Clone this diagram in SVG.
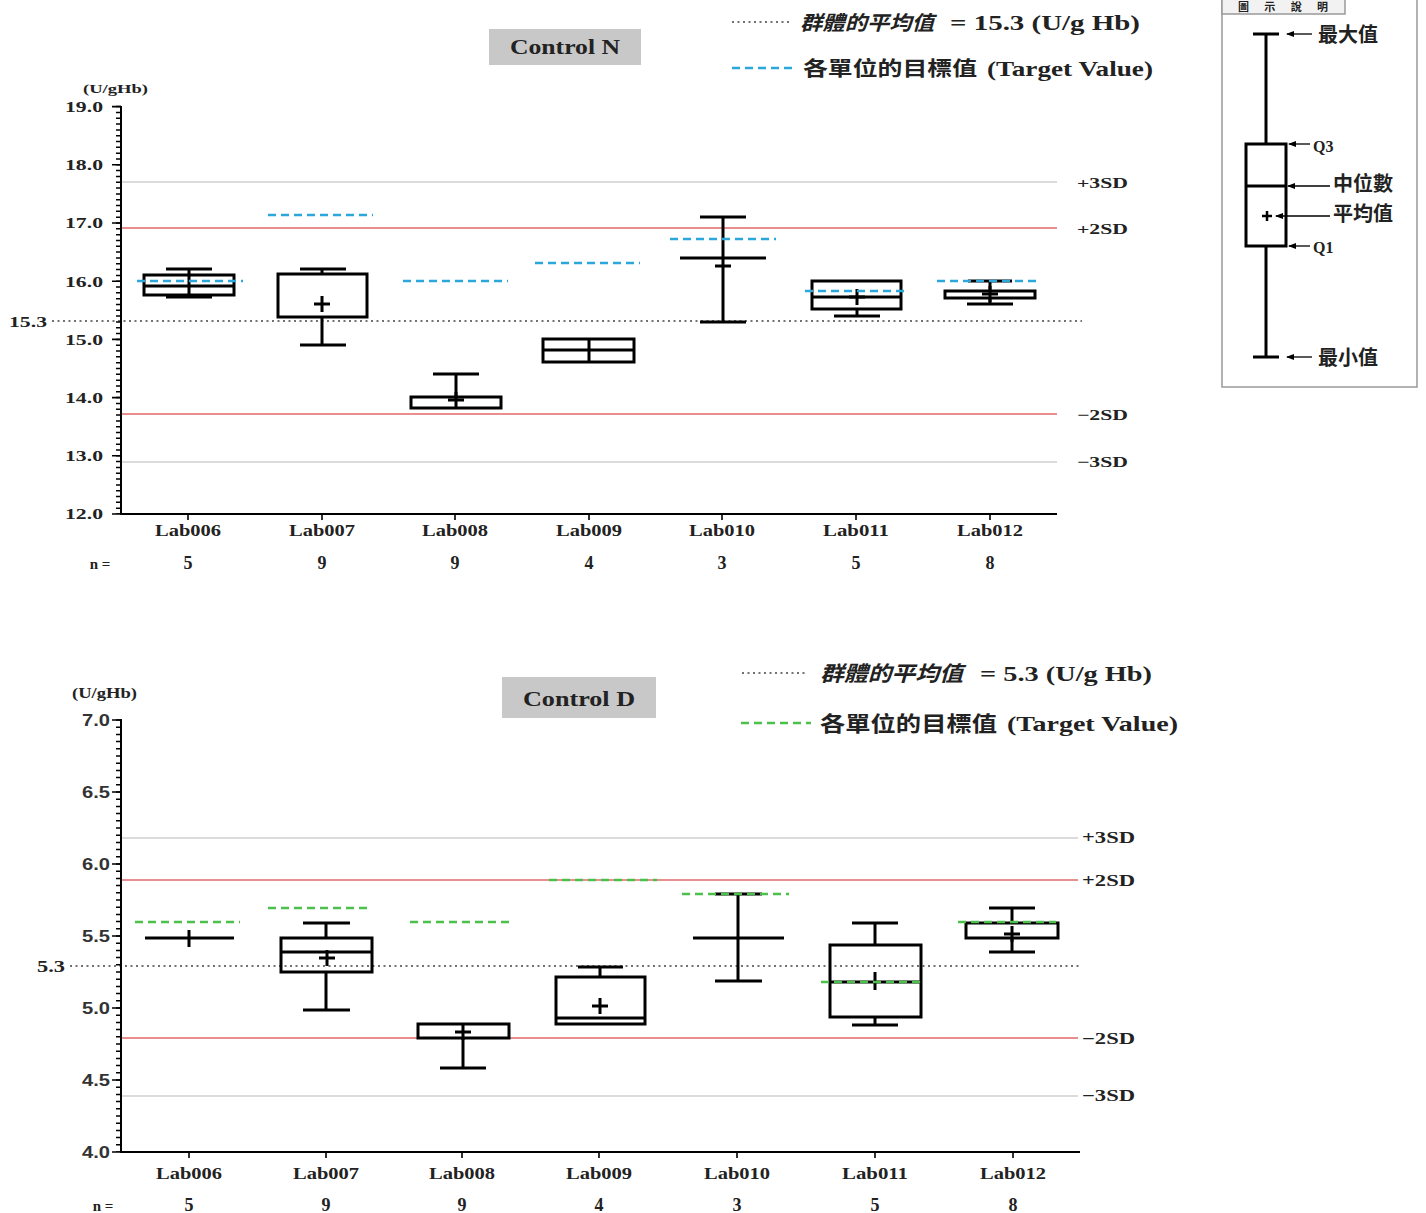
<svg xmlns="http://www.w3.org/2000/svg" xmlns:xlink="http://www.w3.org/1999/xlink" width="1426" height="1213" viewBox="0 0 1426 1213">
<style>
.ax{stroke:#000;stroke-width:2;fill:none}
.mt{stroke:#000;stroke-width:1.6}
.sd3{stroke:#cfcfcf;stroke-width:1.5}
.sd2{stroke:#e06868;stroke-width:1.3}
.mean{stroke:#444;stroke-width:1.6;stroke-dasharray:2 3.5}
.tc{stroke:#2aa8da;stroke-width:2.6;stroke-dasharray:8 5;fill:none}
.tg{stroke:#4cc04c;stroke-width:2.6;stroke-dasharray:8 5;fill:none}
.bx{fill:none;stroke:#000;stroke-width:3}
.t{font-family:"Liberation Serif","Noto Sans CJK TC",serif;font-weight:bold;fill:#222}
.s{font-family:"Liberation Sans",sans-serif;font-weight:bold;fill:#333}
.cj{font-family:"Noto Sans CJK TC","Liberation Serif",sans-serif;font-weight:bold;fill:#222}
.n{font-family:"Liberation Serif",serif;font-weight:bold;fill:#222;font-size:18px}
</style>
<defs>
<path id="plus" d="M-8,0H8M0,-8V8" stroke="#000" stroke-width="3" fill="none"/>
<marker id="arr" markerWidth="8" markerHeight="8" refX="7" refY="4" orient="auto" markerUnits="userSpaceOnUse">
<path d="M0,1 L8,4 L0,7 Z" fill="#000"/>
</marker>
</defs>
<rect width="1426" height="1213" fill="#fff"/>

<!-- ================= TOP CHART ================= -->
<g id="top-chart">
<g id="top-title">
<rect x="489" y="29" width="152" height="36" fill="#c8c8c8"/>
<text class="t" x="565" y="54" font-size="20" text-anchor="middle" textLength="110" lengthAdjust="spacingAndGlyphs">Control N</text>
</g>
<g id="top-legend">
<line x1="732" y1="22" x2="792" y2="22" class="mean"/>
<text class="cj" x="800" y="30" font-size="20" textLength="134" lengthAdjust="spacingAndGlyphs" font-style="italic">群體的平均值</text>
<text class="t" x="950" y="30" font-size="21" textLength="190" lengthAdjust="spacingAndGlyphs">= 15.3 (U/g Hb)</text>
<line x1="732" y1="68" x2="796" y2="68" class="tc"/>
<text class="cj" x="803" y="76" font-size="20" textLength="174" lengthAdjust="spacingAndGlyphs">各單位的目標值</text>
<text class="t" x="987" y="76" font-size="21" textLength="166" lengthAdjust="spacingAndGlyphs">(Target Value)</text>
</g>
<g id="top-reference-lines">
<line x1="121" y1="182" x2="1057" y2="182" class="sd3"/>
<line x1="121" y1="228" x2="1057" y2="228" class="sd2"/>
<line x1="121" y1="414" x2="1057" y2="414" class="sd2"/>
<line x1="121" y1="462" x2="1057" y2="462" class="sd3"/>
<line x1="52" y1="321" x2="1082" y2="321" class="mean"/>
<text class="t" x="9" y="327" font-size="15" textLength="38" lengthAdjust="spacingAndGlyphs">15.3</text>
<text class="t" x="1077" y="188" font-size="15" textLength="51" lengthAdjust="spacingAndGlyphs">+3SD</text>
<text class="t" x="1077" y="234" font-size="15" textLength="51" lengthAdjust="spacingAndGlyphs">+2SD</text>
<text class="t" x="1077" y="420" font-size="15" textLength="51" lengthAdjust="spacingAndGlyphs">−2SD</text>
<text class="t" x="1077" y="467" font-size="15" textLength="51" lengthAdjust="spacingAndGlyphs">−3SD</text>
</g>
<g id="top-axes">
<line x1="121" y1="106" x2="121" y2="515" class="ax"/>
<line x1="120" y1="514" x2="1057" y2="514" class="ax"/>
<line x1="118.5" y1="105.85" x2="118.5" y2="514" stroke="#000" stroke-width="5" stroke-dasharray="1.5 4.32"/>
<path class="mt" d="M112,106.6H121M112,164.8H121M112,223H121M112,281.2H121M112,339.4H121M112,397.6H121M112,455.8H121M112,514H121"/>
<path class="mt" d="M188,514V520M322,514V520M455,514V520M589,514V520M722,514V520M856,514V520M990,514V520"/>
<text class="t" x="83" y="93" font-size="13" textLength="65" lengthAdjust="spacingAndGlyphs">(U/gHb)</text>
<g font-size="15" text-anchor="end">
<text class="t" x="103" y="112" textLength="38" lengthAdjust="spacingAndGlyphs">19.0</text>
<text class="t" x="103" y="170" textLength="38" lengthAdjust="spacingAndGlyphs">18.0</text>
<text class="t" x="103" y="228" textLength="38" lengthAdjust="spacingAndGlyphs">17.0</text>
<text class="t" x="103" y="287" textLength="38" lengthAdjust="spacingAndGlyphs">16.0</text>
<text class="t" x="103" y="345" textLength="38" lengthAdjust="spacingAndGlyphs">15.0</text>
<text class="t" x="103" y="403" textLength="38" lengthAdjust="spacingAndGlyphs">14.0</text>
<text class="t" x="103" y="461" textLength="38" lengthAdjust="spacingAndGlyphs">13.0</text>
<text class="t" x="103" y="519" textLength="38" lengthAdjust="spacingAndGlyphs">12.0</text>
</g>
<g font-size="16" text-anchor="middle">
<text class="t" x="188" y="536" textLength="66" lengthAdjust="spacingAndGlyphs">Lab006</text>
<text class="t" x="322" y="536" textLength="66" lengthAdjust="spacingAndGlyphs">Lab007</text>
<text class="t" x="455" y="536" textLength="66" lengthAdjust="spacingAndGlyphs">Lab008</text>
<text class="t" x="589" y="536" textLength="66" lengthAdjust="spacingAndGlyphs">Lab009</text>
<text class="t" x="722" y="536" textLength="66" lengthAdjust="spacingAndGlyphs">Lab010</text>
<text class="t" x="856" y="536" textLength="66" lengthAdjust="spacingAndGlyphs">Lab011</text>
<text class="t" x="990" y="536" textLength="66" lengthAdjust="spacingAndGlyphs">Lab012</text>
</g>
<g text-anchor="middle">
<text class="n" x="100" y="569" style="font-size:15px">n =</text>
<text class="n" x="188" y="569">5</text>
<text class="n" x="322" y="569">9</text>
<text class="n" x="455" y="569">9</text>
<text class="n" x="589" y="569">4</text>
<text class="n" x="722" y="569">3</text>
<text class="n" x="856" y="569">5</text>
<text class="n" x="990" y="569">8</text>
</g>
</g>
<g id="top-lab006">
<path class="bx" d="M166,269H212M189,269V297M166,297H212"/>
<rect class="bx" x="144" y="275" width="90" height="20"/>
<line class="bx" x1="144" y1="286" x2="234" y2="286"/>
</g>
<g id="top-lab007">
<path class="bx" d="M300,269H346M322,269V274M322,317V345M300,345H346"/>
<rect class="bx" x="278" y="274" width="89" height="43"/>
<use xlink:href="#plus" x="322" y="304"/>
</g>
<g id="top-lab008">
<path class="bx" d="M433,374H479M456,374V397"/>
<rect class="bx" x="411" y="397" width="90" height="11"/>
<use xlink:href="#plus" x="456" y="400"/>
</g>
<g id="top-lab009">
<rect class="bx" x="543" y="339" width="91" height="23"/>
<path class="bx" d="M543,350H634M589,339V362"/>
</g>
<g id="top-lab010">
<path class="bx" d="M700,217H746M723,217V322M700,322H746M680,258H766M715,266H731"/>
</g>
<g id="top-lab011">
<rect class="bx" x="812" y="281" width="89" height="28"/>
<path class="bx" d="M812,297H901M857,309V316M834,316H880"/>
<use xlink:href="#plus" x="857" y="297"/>
</g>
<g id="top-lab012">
<rect class="bx" x="945" y="291" width="90" height="7"/>
<path class="bx" d="M968,281H1012M990,281V291M990,298V304M967,304H1013"/>
<use xlink:href="#plus" x="990" y="294"/>
</g>
<g id="top-targets">
<line class="tc" x1="137" y1="281" x2="243" y2="281"/>
<line class="tc" x1="268" y1="215" x2="373" y2="215"/>
<line class="tc" x1="403" y1="281" x2="508" y2="281"/>
<line class="tc" x1="535" y1="263" x2="640" y2="263"/>
<line class="tc" x1="670" y1="239" x2="776" y2="239"/>
<line class="tc" x1="805" y1="291" x2="905" y2="291"/>
<line class="tc" x1="937" y1="281" x2="1037" y2="281"/>
</g>
</g>

<!-- ================= LEGEND BOX ================= -->
<g id="legend-box">
<rect x="1222" y="-4" width="195" height="391" fill="none" stroke="#999" stroke-width="1.5"/>
<rect x="1222" y="-4" width="123" height="18" fill="#f2f2f2" stroke="#999" stroke-width="1.5"/>
<text class="cj" x="1283" y="11" font-size="11" text-anchor="middle" textLength="90" lengthAdjust="spacing">圖示說明</text>
<path class="bx" d="M1253,34H1279M1266,34V144M1266,246V357M1253,357H1279"/>
<rect class="bx" x="1246" y="144" width="40" height="102"/>
<line class="bx" x1="1246" y1="186" x2="1286" y2="186"/>
<path d="M1262,216H1272M1267,211V221" stroke="#000" stroke-width="2.5"/>
<g stroke="#000" stroke-width="1.3" marker-end="url(#arr)">
<line x1="1312" y1="34" x2="1287" y2="34"/>
<line x1="1310" y1="144" x2="1289" y2="144"/>
<line x1="1330" y1="186" x2="1288" y2="186"/>
<line x1="1330" y1="216" x2="1276" y2="216"/>
<line x1="1310" y1="246" x2="1289" y2="246"/>
<line x1="1312" y1="357" x2="1287" y2="357"/>
</g>
<text class="cj" x="1318" y="42" font-size="20">最大值</text>
<text class="t" x="1313" y="152" font-size="16">Q3</text>
<text class="cj" x="1333" y="191" font-size="20">中位數</text>
<text class="cj" x="1333" y="221" font-size="20">平均值</text>
<text class="t" x="1313" y="253" font-size="16">Q1</text>
<text class="cj" x="1318" y="365" font-size="20">最小值</text>
</g>

<!-- ================= BOTTOM CHART ================= -->
<g id="bottom-chart">
<g id="bottom-title">
<rect x="502" y="677" width="154" height="41" fill="#c8c8c8"/>
<text class="t" x="579" y="706" font-size="21" text-anchor="middle" textLength="112" lengthAdjust="spacingAndGlyphs">Control D</text>
</g>
<g id="bottom-legend">
<line x1="742" y1="673" x2="808" y2="673" class="mean"/>
<text class="cj" x="820" y="681" font-size="21" textLength="143" lengthAdjust="spacingAndGlyphs" font-style="italic">群體的平均值</text>
<text class="t" x="980" y="681" font-size="22" textLength="172" lengthAdjust="spacingAndGlyphs">= 5.3 (U/g Hb)</text>
<line x1="741" y1="723" x2="811" y2="723" class="tg"/>
<text class="cj" x="820" y="731" font-size="21" textLength="177" lengthAdjust="spacingAndGlyphs">各單位的目標值</text>
<text class="t" x="1007" y="731" font-size="22" textLength="171" lengthAdjust="spacingAndGlyphs">(Target Value)</text>
</g>
<g id="bottom-reference-lines">
<line x1="121" y1="838" x2="1078" y2="838" class="sd3"/>
<line x1="121" y1="880" x2="1078" y2="880" class="sd2"/>
<line x1="121" y1="1038" x2="1078" y2="1038" class="sd2"/>
<line x1="121" y1="1096" x2="1078" y2="1096" class="sd3"/>
<line x1="70" y1="966" x2="1080" y2="966" class="mean"/>
<text class="t" x="37" y="972" font-size="16" textLength="28" lengthAdjust="spacingAndGlyphs">5.3</text>
<text class="t" x="1082" y="843" font-size="16" textLength="53" lengthAdjust="spacingAndGlyphs">+3SD</text>
<text class="t" x="1082" y="886" font-size="16" textLength="53" lengthAdjust="spacingAndGlyphs">+2SD</text>
<text class="t" x="1082" y="1044" font-size="16" textLength="53" lengthAdjust="spacingAndGlyphs">−2SD</text>
<text class="t" x="1082" y="1101" font-size="16" textLength="53" lengthAdjust="spacingAndGlyphs">−3SD</text>
</g>
<g id="bottom-axes">
<line x1="121" y1="719" x2="121" y2="1153" class="ax"/>
<line x1="120" y1="1152" x2="1080" y2="1152" class="ax"/>
<line x1="118.5" y1="719.25" x2="118.5" y2="1152" stroke="#000" stroke-width="5" stroke-dasharray="1.5 5.7"/>
<path class="mt" d="M112,720H121M112,792H121M112,864H121M112,936H121M112,1008H121M112,1080H121M112,1152H121"/>
<path class="mt" d="M189,1152V1158M326,1152V1158M462,1152V1158M599,1152V1158M737,1152V1158M875,1152V1158M1013,1152V1158"/>
<text class="t" x="72" y="698" font-size="14" textLength="65" lengthAdjust="spacingAndGlyphs">(U/gHb)</text>
<g font-size="17" text-anchor="end">
<text class="s" x="110" y="726" textLength="28" lengthAdjust="spacingAndGlyphs">7.0</text>
<text class="s" x="110" y="798" textLength="28" lengthAdjust="spacingAndGlyphs">6.5</text>
<text class="s" x="110" y="870" textLength="28" lengthAdjust="spacingAndGlyphs">6.0</text>
<text class="s" x="110" y="942" textLength="28" lengthAdjust="spacingAndGlyphs">5.5</text>
<text class="s" x="110" y="1014" textLength="28" lengthAdjust="spacingAndGlyphs">5.0</text>
<text class="s" x="110" y="1086" textLength="28" lengthAdjust="spacingAndGlyphs">4.5</text>
<text class="s" x="110" y="1158" textLength="28" lengthAdjust="spacingAndGlyphs">4.0</text>
</g>
<g font-size="17" text-anchor="middle">
<text class="t" x="189" y="1179" textLength="66" lengthAdjust="spacingAndGlyphs">Lab006</text>
<text class="t" x="326" y="1179" textLength="66" lengthAdjust="spacingAndGlyphs">Lab007</text>
<text class="t" x="462" y="1179" textLength="66" lengthAdjust="spacingAndGlyphs">Lab008</text>
<text class="t" x="599" y="1179" textLength="66" lengthAdjust="spacingAndGlyphs">Lab009</text>
<text class="t" x="737" y="1179" textLength="66" lengthAdjust="spacingAndGlyphs">Lab010</text>
<text class="t" x="875" y="1179" textLength="66" lengthAdjust="spacingAndGlyphs">Lab011</text>
<text class="t" x="1013" y="1179" textLength="66" lengthAdjust="spacingAndGlyphs">Lab012</text>
</g>
<g text-anchor="middle">
<text class="n" x="103" y="1211" style="font-size:15px">n =</text>
<text class="n" x="189" y="1211">5</text>
<text class="n" x="326" y="1211">9</text>
<text class="n" x="462" y="1211">9</text>
<text class="n" x="599" y="1211">4</text>
<text class="n" x="737" y="1211">3</text>
<text class="n" x="875" y="1211">5</text>
<text class="n" x="1013" y="1211">8</text>
</g>
</g>
<g id="bottom-lab006">
<path class="bx" d="M145,938H234M189,930V947"/>
</g>
<g id="bottom-lab007">
<path class="bx" d="M303,923H350M326,923V938M326,972V1010M303,1010H350"/>
<rect class="bx" x="281" y="938" width="91" height="34"/>
<line class="bx" x1="281" y1="952" x2="372" y2="952"/>
<use xlink:href="#plus" x="327" y="958"/>
</g>
<g id="bottom-lab008">
<rect class="bx" x="418" y="1024" width="91" height="14"/>
<path class="bx" d="M463,1038V1068M440,1068H486"/>
<use xlink:href="#plus" x="463" y="1032"/>
</g>
<g id="bottom-lab009">
<path class="bx" d="M578,967H623M600,967V977"/>
<rect class="bx" x="556" y="977" width="89" height="47"/>
<line class="bx" x1="556" y1="1018" x2="645" y2="1018"/>
<use xlink:href="#plus" x="600" y="1006"/>
</g>
<g id="bottom-lab010">
<path class="bx" d="M715,894H762M738,894V981M715,981H762M693,938H784"/>
</g>
<g id="bottom-lab011">
<path class="bx" d="M852,923H898M875,923V945M875,1017V1025M852,1025H898"/>
<rect class="bx" x="830" y="945" width="91" height="72"/>
<path class="bx" d="M830,982H921M875,972V990"/>
</g>
<g id="bottom-lab012">
<path class="bx" d="M989,908H1035M1012,908V923M1012,938V952M989,952H1035"/>
<rect class="bx" x="966" y="923" width="92" height="15"/>
<use xlink:href="#plus" x="1012" y="934"/>
</g>
<g id="bottom-targets">
<line class="tg" x1="135" y1="922" x2="240" y2="922"/>
<line class="tg" x1="268" y1="908" x2="372" y2="908"/>
<line class="tg" x1="410" y1="922" x2="512" y2="922"/>
<line class="tg" x1="549" y1="880" x2="657" y2="880"/>
<line class="tg" x1="682" y1="894" x2="789" y2="894"/>
<line class="tg" x1="821" y1="982" x2="924" y2="982"/>
<line class="tg" x1="958" y1="922" x2="1056" y2="922"/>
</g>
</g>
</svg>
